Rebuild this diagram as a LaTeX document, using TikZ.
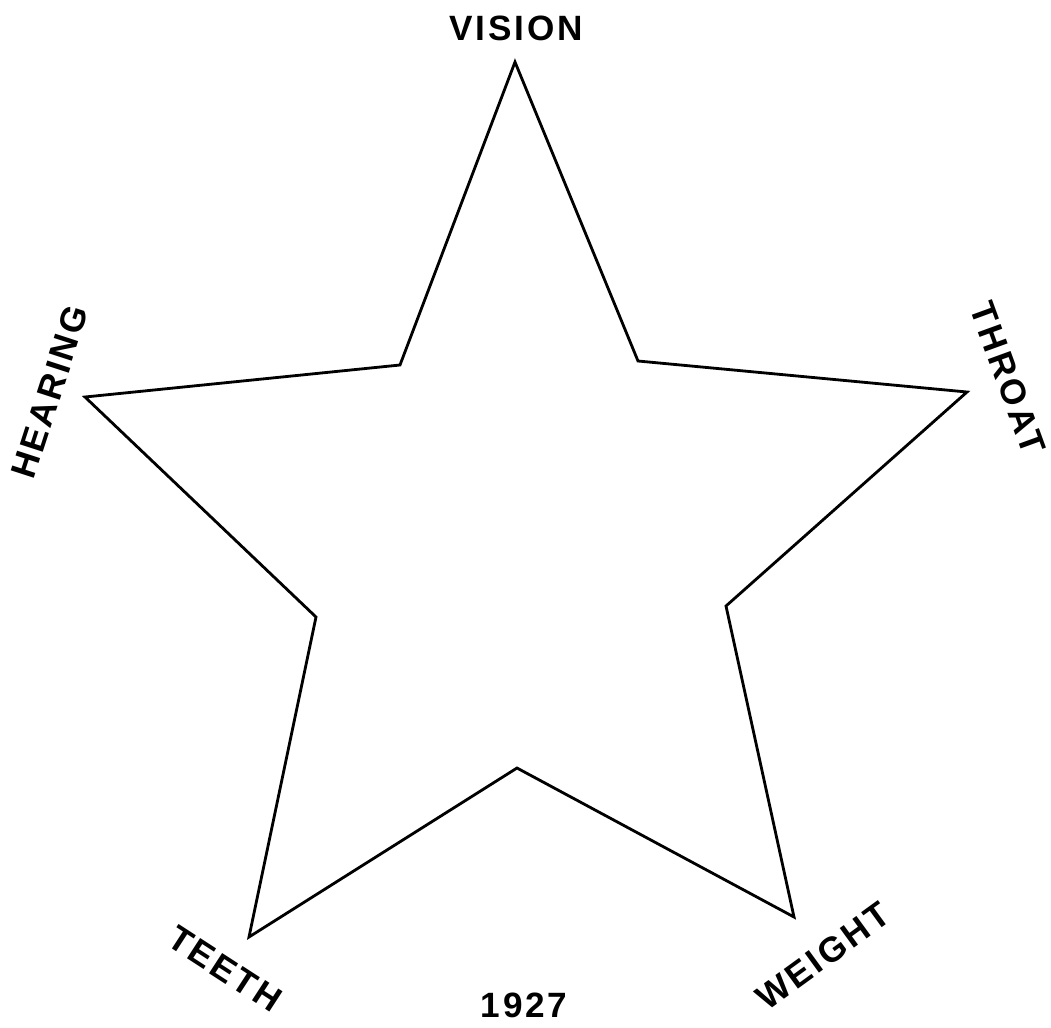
\documentclass[tikz,border=0pt]{standalone}
\usepackage{fontspec}
\setmainfont{Liberation Sans}
\usepackage{tikz}
\usetikzlibrary{positioning}

\begin{document}
\begin{tikzpicture}[x=0.025cm,y=-0.025cm,
  edge/.style={line width=2pt,line join=miter,draw=black},
  lbl/.style={font=\fontsize{25}{28}\selectfont\bfseries\addfontfeature{LetterSpace=8},
              inner sep=0pt,text=black}]
\useasboundingbox (0,0) rectangle (1051,1027);
% star points, outer then inner
\coordinate (vision) at (515,62);
\coordinate (inA) at (638,361);
\coordinate (throat) at (967,392);
\coordinate (inB) at (726,606);
\coordinate (weight) at (794,917);
\coordinate (inC) at (517,768);
\coordinate (teeth) at (249,937);
\coordinate (inD) at (316,617);
\coordinate (hearing) at (85,397);
\coordinate (inE) at (400,365);
\draw[edge] (vision) -- (inA) -- (throat) -- (inB) -- (weight) -- (inC)
  -- (teeth) -- (inD) -- (hearing) -- (inE) -- cycle;
% labels
\node[lbl] (lvision) at (516,28) {VISION};
\node[lbl,rotate=72] (lhearing) at (50,392) {HEARING};
\node[lbl,rotate=-70] (lthroat) at (1008,378) {THROAT};
\node[lbl,rotate=-33] (lteeth) at (225,969) {TEETH};
\node[lbl,rotate=36] (lweight) at (823,956) {WEIGHT};
\node[lbl] (year) at (524,1005) {1927};
\end{tikzpicture}
\end{document}
